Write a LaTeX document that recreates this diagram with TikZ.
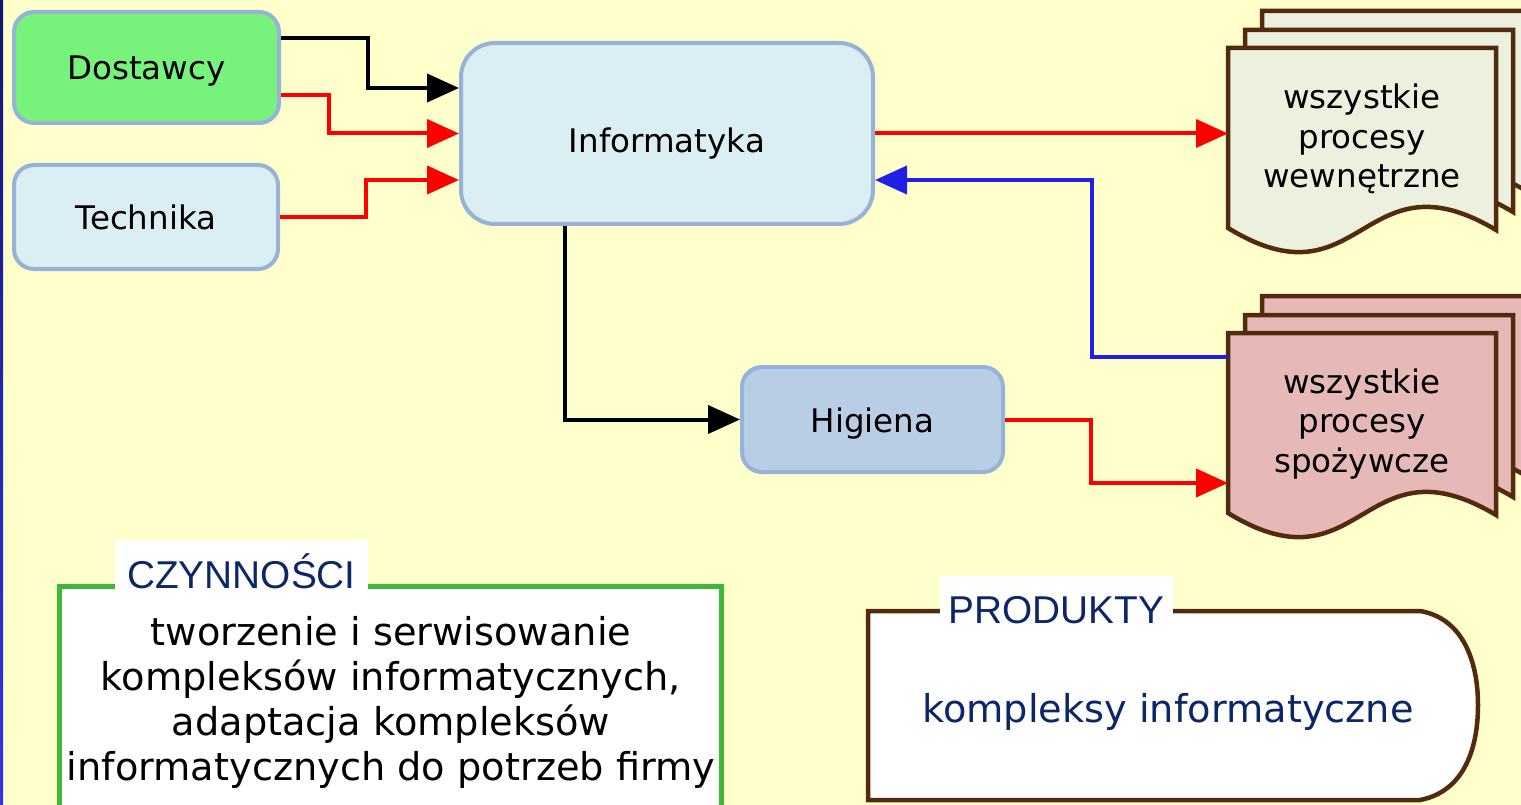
\documentclass[tikz,border=0pt]{standalone}
\usepackage{fontspec}
\setmainfont{DejaVu Sans}
\newfontfamily\labelfont{Liberation Sans}
\usetikzlibrary{arrows.meta,calc}

\definecolor{bgyellow}{HTML}{FFFFCC}
\definecolor{barTop}{HTML}{141470}
\definecolor{barBottom}{HTML}{3333EE}
\definecolor{boxline}{HTML}{95B3D7}
\definecolor{supplygreen}{HTML}{77F27A}
\definecolor{lightblue}{HTML}{DAEEF3}
\definecolor{hygieneblue}{HTML}{B9CDE5}
\definecolor{docgreen}{HTML}{EBF1DE}
\definecolor{docpink}{HTML}{E6B9B8}
\definecolor{docbrown}{HTML}{542A0E}
\definecolor{actgreen}{HTML}{3DB83A}
\definecolor{navy}{HTML}{0C2668}
\definecolor{flowblue}{HTML}{1F1FE6}

% one sheet of a stacked document symbol, top-left corner at (#1,#2)
\newcommand\docpage[3]{%
  \begin{scope}[shift={(#1,#2)}]
    \filldraw[docline, fill=#3] (0,0) -- (268,0) -- (268,182)
      .. controls (134,102) and (134,262) .. (0,180) -- cycle;
  \end{scope}}

\begin{document}
\begin{tikzpicture}[x=1pt,y=-1pt,
  box/.style={draw=boxline, line width=4pt, rounded corners=20pt, inner sep=0pt,
    text height=25pt, text depth=0pt, font=\fontsize{32.5}{39}\selectfont},
  flow/.style={line width=4pt, -{Triangle[length=32pt,width=28pt]}},
  docline/.style={draw=docbrown, line width=4.5pt},
  doctext/.style={inner sep=0pt, outer sep=0pt, minimum width=268pt, minimum height=182pt,
    align=center, font=\fontsize{32.5}{39.5}\selectfont},
  tag/.style={fill=white, text=navy, inner ysep=0pt, anchor=base,
    font=\labelfont\fontsize{38.8}{40}\selectfont}
]
\useasboundingbox (0,0) rectangle (1521,805);
\fill[bgyellow] (0,0) rectangle (1521,805);
\shade[top color=barTop, bottom color=barBottom] (0,0) rectangle (3,805);

% process boxes
\node[box, fill=supplygreen, minimum width=265pt, minimum height=111pt] (dost) at (146.5,67.5) {Dostawcy};
\node[box, fill=lightblue, minimum width=264pt, minimum height=104pt] (tech) at (146,217) {Technika};
\node[box, fill=lightblue, rounded corners=34pt, text height=37.7pt,
  minimum width=412pt, minimum height=181pt] (info) at (667,133.5) {Informatyka};
\node[box, fill=hygieneblue, minimum width=261pt, minimum height=105pt] (hig) at (872.5,419.5) {Higiena};

% stacked documents
\docpage{1262}{11}{docgreen}
\docpage{1245}{30}{docgreen}
\docpage{1228}{48}{docgreen}
\node[doctext] (doc1) at (1362,139) {wszystkie\\procesy\\wewnętrzne};

\docpage{1262}{296}{docpink}
\docpage{1245}{315}{docpink}
\docpage{1228}{333}{docpink}
\node[doctext] (doc2) at (1362,424) {wszystkie\\procesy\\spożywcze};

% connectors
\draw[flow, black] ([yshift=29.5pt]dost.east) -- ++(87,0) |- ([yshift=45.5pt]info.west);
\draw[flow, red] ([yshift=-27.5pt]dost.east) -- ++(48,0) |- (info.west);
\draw[flow, red] (tech.east) -- ++(86,0) |- ([yshift=-46.5pt]info.west);
\draw[flow, red] (info.east) -- (info.east -| doc1.west);
\draw[flow, flowblue] ([yshift=67pt]doc2.west) -- ++(-136,0) |- ([yshift=-46.5pt]info.east);
\draw[flow, black] ([xshift=-102pt]info.south) |- (hig.west);
\draw[flow, red] (hig.east) -- ++(86,0) |- ([yshift=-59pt]doc2.west);

% activities panel
\node[draw=actgreen, line width=5pt, fill=white, minimum width=662pt, minimum height=260pt,
  inner sep=0pt, anchor=north west] (act) at (57,584) {};
\node[tag, text height=48pt, text depth=4pt, inner xsep=12pt] (actlbl) at (241.5,588) {CZYNNOŚCI};
\node[align=center, font=\fontsize{38.3}{45}\selectfont] (acttxt) at (391,702)
  {tworzenie i serwisowanie\\kompleksów informatycznych,\\adaptacja kompleksów\\informatycznych do potrzeb firmy};

% products panel
\filldraw[docline, fill=white] (868,611) -- (1420,611)
  .. controls (1462,618) and (1478,660) .. (1478,705)
  .. controls (1478,752) and (1462,792) .. (1420,800) -- (868,800) -- cycle;
\node[tag, text height=47pt, text depth=0pt, inner xsep=9pt] (prodlbl) at (1056.5,623) {PRODUKTY};
\node[text=navy, font=\fontsize{38.3}{44}\selectfont] (prodtxt) at (1168,712) {kompleksy informatyczne};
\end{tikzpicture}
\end{document}
